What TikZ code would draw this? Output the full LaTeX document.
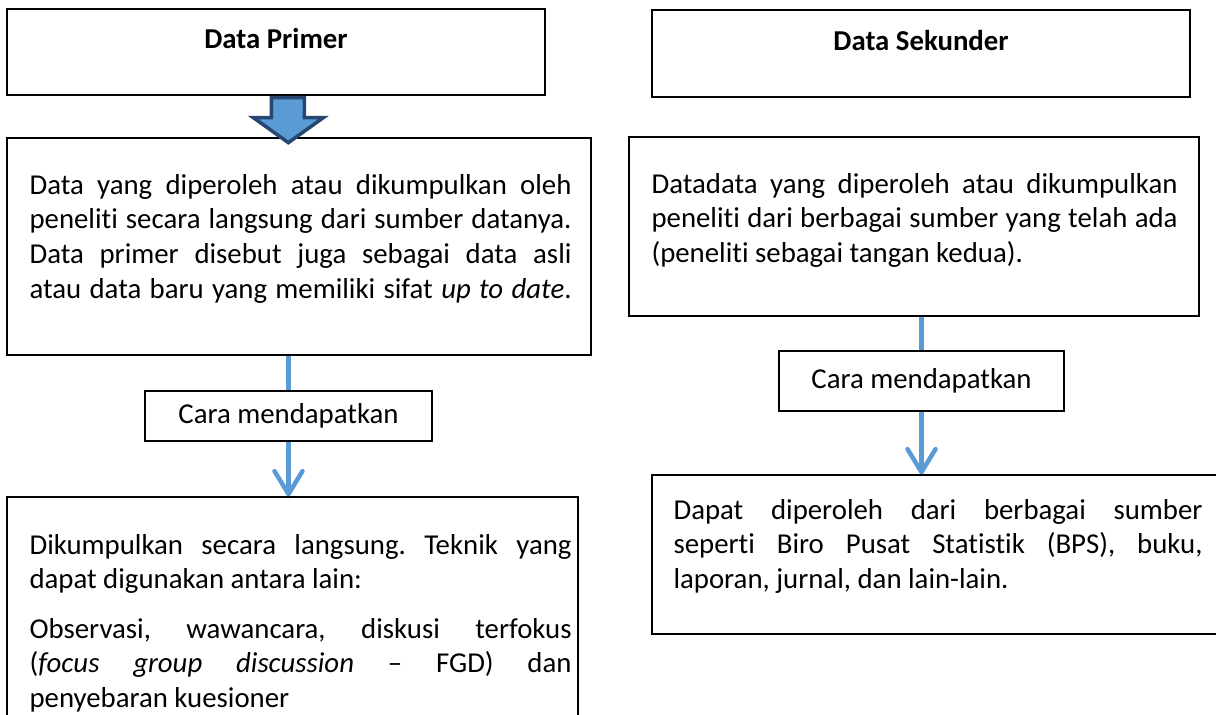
\documentclass[tikz,border=0pt]{standalone}
\usepackage{fontspec}
\setmainfont{Carlito}[Ligatures={TeX,CommonOff}]
\usetikzlibrary{arrows.meta,calc}
\definecolor{lineblue}{RGB}{91,155,213}
\definecolor{navyblue}{RGB}{38,72,112}
\frenchspacing
\begin{document}
\begin{tikzpicture}[x=1pt,y=-1pt,
  box/.style={draw=black,line width=1.3pt,rectangle,inner sep=0pt},
  body/.style={anchor=base west,inner sep=0pt,align=justify,font=\fontsize{28.8}{34.6}\selectfont},
  titletext/.style={font=\fontsize{28.8}{34}\selectfont\bfseries,inner sep=0pt,anchor=base},
  caratext/.style={box,font=\fontsize{28.8}{34}\selectfont},
  conn/.style={draw=lineblue,line width=4.5pt},
  conntip/.style={-{Straight Barb[length=23pt,width=28pt,round]}}]
\useasboundingbox (0,0) rectangle (1216,715);
\clip (0,0) rectangle (1216,715);
\hyphenpenalty=10000
% left column
\node[box,minimum width=538pt,minimum height=86pt] (p1) at (276,52) {};
\node[box,minimum width=584pt,minimum height=217pt] (p2) at (299,246.5) {};
\node[caratext,minimum width=287pt,minimum height=50pt] (cl) at (288.5,416) {Cara mendapatkan};
\node[box,minimum width=571pt,minimum height=263pt] (p3) at (292.5,628.5) {};
% right column
\node[box,minimum width=538pt,minimum height=87pt] (s1) at (921,53.5) {};
\node[box,minimum width=570pt,minimum height=179pt] (s2) at (914,226.5) {};
\node[caratext,minimum width=285pt,minimum height=60pt] (cr) at (921.5,381) {Cara mendapatkan};
\node[box,minimum width=608pt,minimum height=159pt] (s3) at (956,554.5) {};
% titles
\node[titletext] (p1t) at ($(p1.north)+(0,40)$) {Data Primer};
\node[titletext] (s1t) at ($(s1.north)+(0,41)$) {Data Sekunder};
% body texts
\node[body,text width=542pt] (p2t) at ($(p2.north west)+(23,57)$) {Data yang diperoleh atau dikumpulkan oleh\linebreak peneliti secara langsung dari sumber datanya.\linebreak Data primer disebut juga sebagai data asli\linebreak atau data baru yang memiliki sifat \emph{up to date}.\parfillskip=0pt\par};
\node[body,text width=526pt] (s2t) at ($(s2.north west)+(23,57)$) {Datadata yang diperoleh atau dikumpulkan\linebreak peneliti dari berbagai sumber yang telah ada\linebreak (peneliti sebagai tangan kedua).};
\node[body,text width=542pt] (p3t) at ($(p3.north west)+(23,58)$) {Dikumpulkan secara langsung. Teknik yang\linebreak dapat digunakan antara lain:\par\vspace{14.5pt}Observasi, wawancara, diskusi terfokus\linebreak (\emph{focus group discussion} – FGD) dan\linebreak penyebaran kuesioner};
\node[body,text width=529pt] (s3t) at ($(s3.north west)+(22,45)$) {Dapat diperoleh dari berbagai sumber\linebreak seperti Biro Pusat Statistik (BPS), buku,\linebreak laporan, jurnal, dan lain-lain.};
% connectors
\draw[conn] (p2.south -| cl.north) -- (cl.north);
\draw[conn,conntip] (cl.south) -- (cl.south |- p3.north);
\draw[conn] (s2.south -| cr.north) -- (cr.north);
\draw[conn,conntip] (cr.south) -- (cr.south |- s3.north);
% block arrow
\coordinate (ba) at ($(p1.south west)+(282,2)$);
\draw[draw=navyblue,fill=lineblue,line width=3.5pt,line join=miter]
  ($(ba)+(-17,0)$) -- ($(ba)+(16,0)$) -- ($(ba)+(16,20)$) -- ($(ba)+(35,20)$)
  -- ($(ba)+(0,45)$) -- ($(ba)+(-35,20)$) -- ($(ba)+(-17,20)$) -- cycle;
\end{tikzpicture}
\end{document}
